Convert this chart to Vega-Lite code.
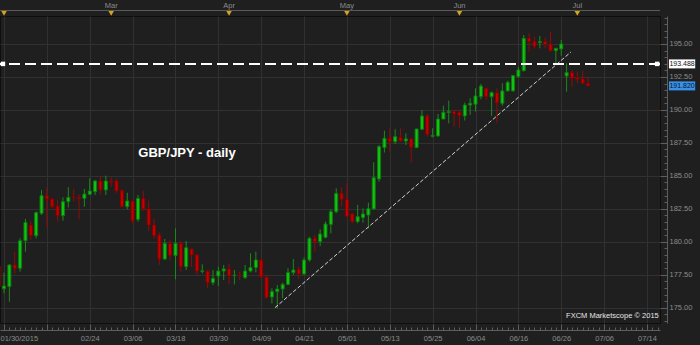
{
  "$schema": "https://vega.github.io/schema/vega-lite/v6.json",
  "width": 660,
  "height": 307,
  "autosize": "none",
  "padding": {"left": 0, "top": 16, "right": 40, "bottom": 22},
  "background": "#1f1f1f",
  "config": {
    "font": "Liberation Sans",
    "view": {"stroke": "#0e0e0e", "strokeWidth": 1},
    "axis": {
      "labelFont": "Liberation Sans",
      "labelFontSize": 7.5,
      "labelColor": "#8c8c8c",
      "domainColor": "#5e5e5e",
      "tickColor": "#5e5e5e",
      "gridColor": "#313131",
      "labelOverlap": false,
      "labelFlush": false
    }
  },
  "datasets": {
    "candles": [
      {"i": -1, "o": 178.15, "h": 178.4, "l": 176.3, "c": 176.6},
      {"i": 0, "o": 176.44, "h": 177.66, "l": 176.09, "c": 176.65},
      {"i": 1, "o": 176.6, "h": 178.3, "l": 175.46, "c": 178.24},
      {"i": 2, "o": 178.24, "h": 179.25, "l": 177.6, "c": 177.99},
      {"i": 3, "o": 177.99, "h": 180.26, "l": 177.73, "c": 180.08},
      {"i": 4, "o": 180.08, "h": 181.73, "l": 179.25, "c": 181.47},
      {"i": 5, "o": 181.27, "h": 181.58, "l": 180.14, "c": 180.46},
      {"i": 6, "o": 180.46, "h": 182.3, "l": 180.26, "c": 182.21},
      {"i": 7, "o": 182.16, "h": 183.93, "l": 182.03, "c": 183.5},
      {"i": 8, "o": 183.5, "h": 184.13, "l": 181.09, "c": 183.24},
      {"i": 9, "o": 183.24, "h": 183.3, "l": 182.54, "c": 182.66},
      {"i": 10, "o": 182.71, "h": 183.17, "l": 181.53, "c": 181.98},
      {"i": 11, "o": 181.98, "h": 183.37, "l": 181.6, "c": 183.04},
      {"i": 12, "o": 183.04, "h": 184.13, "l": 182.61, "c": 183.37},
      {"i": 13, "o": 183.4, "h": 184.0, "l": 183.04, "c": 183.35},
      {"i": 14, "o": 183.35, "h": 183.6, "l": 181.7, "c": 183.25},
      {"i": 15, "o": 183.29, "h": 184.0, "l": 182.66, "c": 183.62},
      {"i": 16, "o": 183.6, "h": 184.81, "l": 183.55, "c": 183.85},
      {"i": 17, "o": 183.8, "h": 184.69, "l": 183.55, "c": 184.61},
      {"i": 18, "o": 184.61, "h": 185.01, "l": 183.6, "c": 183.93},
      {"i": 19, "o": 183.93, "h": 185.01, "l": 183.55, "c": 184.61},
      {"i": 20, "o": 184.6, "h": 184.89, "l": 184.18, "c": 184.5},
      {"i": 21, "o": 184.61, "h": 184.76, "l": 183.72, "c": 183.85},
      {"i": 22, "o": 183.88, "h": 183.98, "l": 182.61, "c": 182.66},
      {"i": 23, "o": 182.66, "h": 183.72, "l": 182.46, "c": 183.09},
      {"i": 24, "o": 183.09, "h": 183.1, "l": 181.45, "c": 181.58},
      {"i": 25, "o": 181.7, "h": 183.55, "l": 181.52, "c": 183.29},
      {"i": 26, "o": 183.29, "h": 183.88, "l": 182.36, "c": 182.49},
      {"i": 27, "o": 182.49, "h": 183.12, "l": 180.84, "c": 181.27},
      {"i": 28, "o": 181.27, "h": 181.78, "l": 180.26, "c": 180.46},
      {"i": 29, "o": 180.51, "h": 180.71, "l": 178.24, "c": 178.69},
      {"i": 30, "o": 178.69, "h": 180.21, "l": 178.62, "c": 179.88},
      {"i": 31, "o": 179.88, "h": 180.14, "l": 178.57, "c": 178.95},
      {"i": 32, "o": 178.95, "h": 181.02, "l": 177.15, "c": 179.88},
      {"i": 33, "o": 179.88, "h": 180.06, "l": 177.73, "c": 178.11},
      {"i": 34, "o": 178.11, "h": 180.06, "l": 177.86, "c": 179.55},
      {"i": 35, "o": 179.45, "h": 179.5, "l": 178.11, "c": 179.0},
      {"i": 36, "o": 179.0, "h": 179.05, "l": 177.48, "c": 177.78},
      {"i": 37, "o": 177.75, "h": 178.29, "l": 177.6, "c": 177.8},
      {"i": 38, "o": 177.78, "h": 177.82, "l": 176.47, "c": 176.9},
      {"i": 39, "o": 176.9, "h": 177.86, "l": 176.72, "c": 177.23},
      {"i": 40, "o": 177.4, "h": 178.11, "l": 176.65, "c": 177.78},
      {"i": 41, "o": 177.78, "h": 178.24, "l": 177.1, "c": 177.94},
      {"i": 42, "o": 177.94, "h": 178.36, "l": 176.77, "c": 177.4},
      {"i": 43, "o": 177.44, "h": 177.86, "l": 176.77, "c": 177.46},
      {"i": 44, "o": 177.48, "h": 177.73, "l": 177.1, "c": 177.44},
      {"i": 45, "o": 177.28, "h": 178.24, "l": 177.18, "c": 177.78},
      {"i": 46, "o": 177.78, "h": 179.12, "l": 177.68, "c": 178.04},
      {"i": 47, "o": 178.04, "h": 179.25, "l": 177.68, "c": 178.62},
      {"i": 48, "o": 178.62, "h": 178.74, "l": 177.28, "c": 177.33},
      {"i": 49, "o": 177.33, "h": 177.4, "l": 175.7, "c": 175.76},
      {"i": 50, "o": 175.81, "h": 176.47, "l": 175.33, "c": 176.22},
      {"i": 51, "o": 176.22, "h": 176.72, "l": 174.95, "c": 176.42},
      {"i": 52, "o": 176.42, "h": 176.9, "l": 175.71, "c": 176.77},
      {"i": 53, "o": 176.77, "h": 177.99, "l": 176.72, "c": 177.66},
      {"i": 54, "o": 177.66, "h": 178.69, "l": 177.48, "c": 177.86},
      {"i": 55, "o": 177.91, "h": 178.11, "l": 177.18, "c": 177.56},
      {"i": 56, "o": 177.56, "h": 178.82, "l": 177.48, "c": 178.62},
      {"i": 57, "o": 178.62, "h": 180.39, "l": 178.49, "c": 180.26},
      {"i": 58, "o": 180.26, "h": 180.51, "l": 179.25, "c": 180.01},
      {"i": 59, "o": 180.01, "h": 180.94, "l": 179.68, "c": 180.59},
      {"i": 60, "o": 180.34, "h": 181.53, "l": 180.26, "c": 181.35},
      {"i": 61, "o": 181.32, "h": 182.46, "l": 180.64, "c": 182.28},
      {"i": 62, "o": 182.28, "h": 184.05, "l": 182.16, "c": 183.67},
      {"i": 63, "o": 183.67, "h": 184.13, "l": 182.66, "c": 183.22},
      {"i": 64, "o": 183.22, "h": 184.43, "l": 181.85, "c": 181.91},
      {"i": 65, "o": 182.11, "h": 182.16, "l": 181.4, "c": 181.53},
      {"i": 66, "o": 181.53, "h": 182.79, "l": 181.4, "c": 181.91},
      {"i": 67, "o": 181.83, "h": 182.54, "l": 181.45, "c": 182.11},
      {"i": 68, "o": 182.03, "h": 182.97, "l": 181.02, "c": 182.51},
      {"i": 69, "o": 182.49, "h": 186.03, "l": 182.46, "c": 184.86},
      {"i": 70, "o": 184.76, "h": 187.34, "l": 184.56, "c": 187.21},
      {"i": 71, "o": 187.14, "h": 188.43, "l": 186.76, "c": 187.85},
      {"i": 72, "o": 187.85, "h": 188.6, "l": 186.83, "c": 187.59},
      {"i": 73, "o": 187.59, "h": 188.53, "l": 187.42, "c": 187.97},
      {"i": 74, "o": 187.92, "h": 188.6, "l": 187.6, "c": 187.64},
      {"i": 75, "o": 187.64, "h": 188.22, "l": 187.34, "c": 187.8},
      {"i": 76, "o": 187.8, "h": 187.85, "l": 186.03, "c": 187.16},
      {"i": 77, "o": 187.14, "h": 188.58, "l": 187.1, "c": 188.55},
      {"i": 78, "o": 188.53, "h": 189.99, "l": 188.48, "c": 189.54},
      {"i": 79, "o": 189.54, "h": 189.69, "l": 187.97, "c": 188.15},
      {"i": 80, "o": 188.0, "h": 188.6, "l": 187.92, "c": 188.07},
      {"i": 81, "o": 188.02, "h": 189.69, "l": 187.97, "c": 189.31},
      {"i": 82, "o": 189.31, "h": 190.32, "l": 189.29, "c": 189.82},
      {"i": 83, "o": 189.8, "h": 190.7, "l": 188.98, "c": 189.87},
      {"i": 84, "o": 189.87, "h": 189.99, "l": 188.73, "c": 189.69},
      {"i": 85, "o": 189.82, "h": 189.99, "l": 188.6, "c": 189.56},
      {"i": 86, "o": 189.54, "h": 190.55, "l": 189.19, "c": 190.37},
      {"i": 87, "o": 190.37, "h": 190.88, "l": 189.62, "c": 190.5},
      {"i": 88, "o": 190.43, "h": 191.64, "l": 189.87, "c": 191.06},
      {"i": 89, "o": 191.0, "h": 191.97, "l": 190.8, "c": 191.81},
      {"i": 90, "o": 191.64, "h": 191.68, "l": 190.75, "c": 191.0},
      {"i": 91, "o": 191.0, "h": 191.39, "l": 189.54, "c": 191.31},
      {"i": 92, "o": 191.31, "h": 191.64, "l": 188.98, "c": 190.55},
      {"i": 93, "o": 190.5, "h": 192.02, "l": 190.32, "c": 191.44},
      {"i": 94, "o": 191.44, "h": 192.22, "l": 191.39, "c": 192.09},
      {"i": 95, "o": 191.44, "h": 192.65, "l": 191.39, "c": 192.6},
      {"i": 96, "o": 192.52, "h": 193.28, "l": 192.45, "c": 193.03},
      {"i": 97, "o": 192.98, "h": 195.68, "l": 192.9, "c": 195.43},
      {"i": 98, "o": 195.43, "h": 195.81, "l": 194.42, "c": 195.18},
      {"i": 99, "o": 195.18, "h": 195.56, "l": 194.67, "c": 194.8},
      {"i": 100, "o": 195.1, "h": 195.6, "l": 194.67, "c": 195.18},
      {"i": 101, "o": 195.18, "h": 195.5, "l": 194.67, "c": 194.97},
      {"i": 102, "o": 195.0, "h": 195.94, "l": 194.42, "c": 194.49},
      {"i": 103, "o": 194.49, "h": 194.7, "l": 193.53, "c": 194.67},
      {"i": 104, "o": 194.62, "h": 195.3, "l": 194.09, "c": 195.0},
      {"i": 105, "o": 192.57, "h": 193.53, "l": 191.38, "c": 192.83},
      {"i": 106, "o": 192.83, "h": 193.03, "l": 191.76, "c": 192.4},
      {"i": 107, "o": 192.45, "h": 192.9, "l": 192.02, "c": 192.32},
      {"i": 108, "o": 192.35, "h": 192.98, "l": 192.0, "c": 192.02},
      {"i": 109, "o": 192.02, "h": 192.52, "l": 191.8, "c": 191.82}
    ],
    "months": [
      {"i": 0, "m": ""},
      {"i": 20, "m": "Mar"},
      {"i": 42, "m": "Apr"},
      {"i": 64, "m": "May"},
      {"i": 85, "m": "Jun"},
      {"i": 107, "m": "Jul"}
    ],
    "levels": [
      {"v": 193.488, "t": "193.488", "kind": "level"},
      {"v": 191.82, "t": "191.820", "kind": "last"}
    ]
  },
  "layer": [
    {
      "data": {"name": "candles"},
      "mark": {"type": "rule", "strokeWidth": 1},
      "encoding": {
        "x": {
          "field": "i", "type": "quantitative",
          "scale": {"domain": [-0.75, 122.43], "nice": false, "zero": false, "padding": 0},
          "axis": {
            "orient": "bottom", "offset": 7, "title": null, "tickCount": 500,
            "values": [0,1,2,3,4,5,6,7,8,9,10,11,12,13,14,15,16,17,18,19,20,21,22,23,24,25,26,27,28,29,30,31,32,33,34,35,36,37,38,39,40,41,42,43,44,45,46,47,48,49,50,51,52,53,54,55,56,57,58,59,60,61,62,63,64,65,66,67,68,69,70,71,72,73,74,75,76,77,78,79,80,81,82,83,84,85,86,87,88,89,90,91,92,93,94,95,96,97,98,99,100,101,102,103,104,105,106,107,108,109,110,111,112,113,114,115,116,117,118,119,120,121,122],
            "labelExpr": "datum.value == 0 ? '01/30/2015' : datum.value == 16 ? '02/24' : datum.value == 24 ? '03/06' : datum.value == 32 ? '03/18' : datum.value == 40 ? '03/30' : datum.value == 48 ? '04/09' : datum.value == 56 ? '04/21' : datum.value == 64 ? '05/01' : datum.value == 72 ? '05/13' : datum.value == 80 ? '05/25' : datum.value == 88 ? '06/04' : datum.value == 96 ? '06/16' : datum.value == 104 ? '06/26' : datum.value == 112 ? '07/06' : datum.value == 120 ? '07/14' : ''",
            "tickSize": {"condition": {"test": "datum.value % 8 === 0", "value": -6}, "value": -3},
            "grid": true,
            "gridOpacity": {"condition": {"test": "datum.value % 8 === 0", "value": 1}, "value": 0},
            "labelAlign": {"condition": {"test": "datum.value === 0", "value": "left"}, "value": "center"},
            "labelOffset": {"condition": {"test": "datum.value === 0", "value": -4}, "value": 0},
            "labelPadding": 10,
            "labelOverlap": false
          }
        },
        "y": {
          "field": "l", "type": "quantitative",
          "scale": {"domain": [173.84, 197.12], "nice": false, "zero": false, "padding": 0},
          "axis": {
            "orient": "right", "offset": 7, "title": null, "tickCount": 500,
            "values": [174,174.5,175,175.5,176,176.5,177,177.5,178,178.5,179,179.5,180,180.5,181,181.5,182,182.5,183,183.5,184,184.5,185,185.5,186,186.5,187,187.5,188,188.5,189,189.5,190,190.5,191,191.5,192,192.5,193,193.5,194,194.5,195,195.5,196,196.5,197],
            "labelExpr": "datum.value % 2.5 === 0 ? format(datum.value, '.2f') : ''",
            "tickSize": {"condition": {"test": "datum.value % 2.5 === 0", "value": -7}, "value": -3},
            "grid": true,
            "gridOpacity": {"condition": {"test": "datum.value % 2.5 === 0", "value": 1}, "value": 0},
            "labelPadding": 9,
            "labelOverlap": false
          }
        },
        "y2": {"field": "h"},
        "color": {"condition": {"test": "datum.c >= datum.o", "value": "#1d8a1d"}, "value": "#8e0c0c"}
      }
    },
    {
      "data": {"name": "candles"},
      "mark": {"type": "bar", "width": 3, "strokeWidth": 1},
      "encoding": {
        "x": {"field": "i", "type": "quantitative"},
        "y": {"field": "o", "type": "quantitative"},
        "y2": {"field": "c"},
        "fill": {"condition": {"test": "datum.c >= datum.o", "value": "#12c412"}, "value": "#c40000"},
        "stroke": {"condition": {"test": "datum.c >= datum.o", "value": "#0b7d0b"}, "value": "#860000"}
      }
    },
    {
      "data": {"values": [{}]},
      "mark": {"type": "rule", "color": "#d2d2d2", "strokeWidth": 1, "strokeDash": [4, 2]},
      "encoding": {
        "x": {"datum": 50.57, "type": "quantitative"},
        "x2": {"datum": 105.8},
        "y": {"datum": 175.0, "type": "quantitative"},
        "y2": {"datum": 194.39}
      }
    },
    {
      "data": {"values": [{}]},
      "mark": {"type": "rule", "color": "#ffffff", "strokeWidth": 2, "strokeDash": [11, 5]},
      "encoding": {
        "y": {"datum": 193.488, "type": "quantitative"}
      }
    },
    {
      "data": {"values": [{}]},
      "mark": {"type": "rule", "color": "#5e5e5e", "strokeWidth": 1, "clip": false},
      "encoding": {
        "y": {"datum": 197.54, "type": "quantitative"}
      }
    },
    {
      "data": {"values": [{}]},
      "mark": {"type": "point", "shape": "square", "filled": true, "color": "#ffffff", "size": 20, "opacity": 1, "clip": false},
      "encoding": {
        "x": {"datum": -0.2, "type": "quantitative"},
        "y": {"datum": 193.488, "type": "quantitative"}
      }
    },
    {
      "data": {"values": [{}]},
      "mark": {"type": "point", "shape": "square", "filled": true, "color": "#ffffff", "size": 20, "opacity": 1, "clip": false},
      "encoding": {
        "x": {"datum": 121.9, "type": "quantitative"},
        "y": {"datum": 193.488, "type": "quantitative"}
      }
    },
    {
      "data": {"name": "months"},
      "mark": {"type": "point", "shape": "triangle-down", "filled": true, "color": "#d9a21b", "size": 30, "opacity": 1, "clip": false},
      "encoding": {
        "x": {"field": "i", "type": "quantitative"},
        "y": {"datum": 197.31, "type": "quantitative"}
      }
    },
    {
      "data": {"name": "months"},
      "mark": {"type": "text", "fontSize": 7.5, "color": "#8c8c8c", "align": "center", "baseline": "middle", "clip": false},
      "encoding": {
        "x": {"field": "i", "type": "quantitative"},
        "y": {"datum": 197.9, "type": "quantitative"},
        "text": {"field": "m"}
      }
    },
    {
      "data": {"values": [{"label": "GBP/JPY - daily"}]},
      "mark": {"type": "text", "fontSize": 13, "fontWeight": "bold", "color": "#ffffff", "align": "center", "baseline": "middle"},
      "encoding": {
        "x": {"datum": 34.15, "type": "quantitative"},
        "y": {"datum": 186.73, "type": "quantitative"},
        "text": {"field": "label"}
      }
    },
    {
      "data": {"values": [{"label": "FXCM Marketscope © 2015"}]},
      "mark": {"type": "text", "fontSize": 7.5, "color": "#e6e6e6", "align": "right", "baseline": "middle"},
      "encoding": {
        "x": {"datum": 122.2, "type": "quantitative"},
        "y": {"datum": 174.37, "type": "quantitative"},
        "text": {"field": "label"}
      }
    },
    {
      "data": {"name": "levels"},
      "mark": {"type": "bar", "orient": "horizontal", "height": 9, "clip": false},
      "encoding": {
        "x": {"datum": 124.1, "type": "quantitative"},
        "x2": {"datum": 129.0},
        "y": {"field": "v", "type": "quantitative"},
        "fill": {"condition": {"test": "datum.kind === 'level'", "value": "#ffffff"}, "value": "#3692ec"}
      }
    },
    {
      "data": {"name": "levels"},
      "mark": {"type": "text", "fontSize": 7, "color": "#101010", "align": "center", "baseline": "middle", "clip": false},
      "encoding": {
        "x": {"datum": 126.55, "type": "quantitative"},
        "y": {"field": "v", "type": "quantitative"},
        "text": {"field": "t"}
      }
    }
  ]
}
